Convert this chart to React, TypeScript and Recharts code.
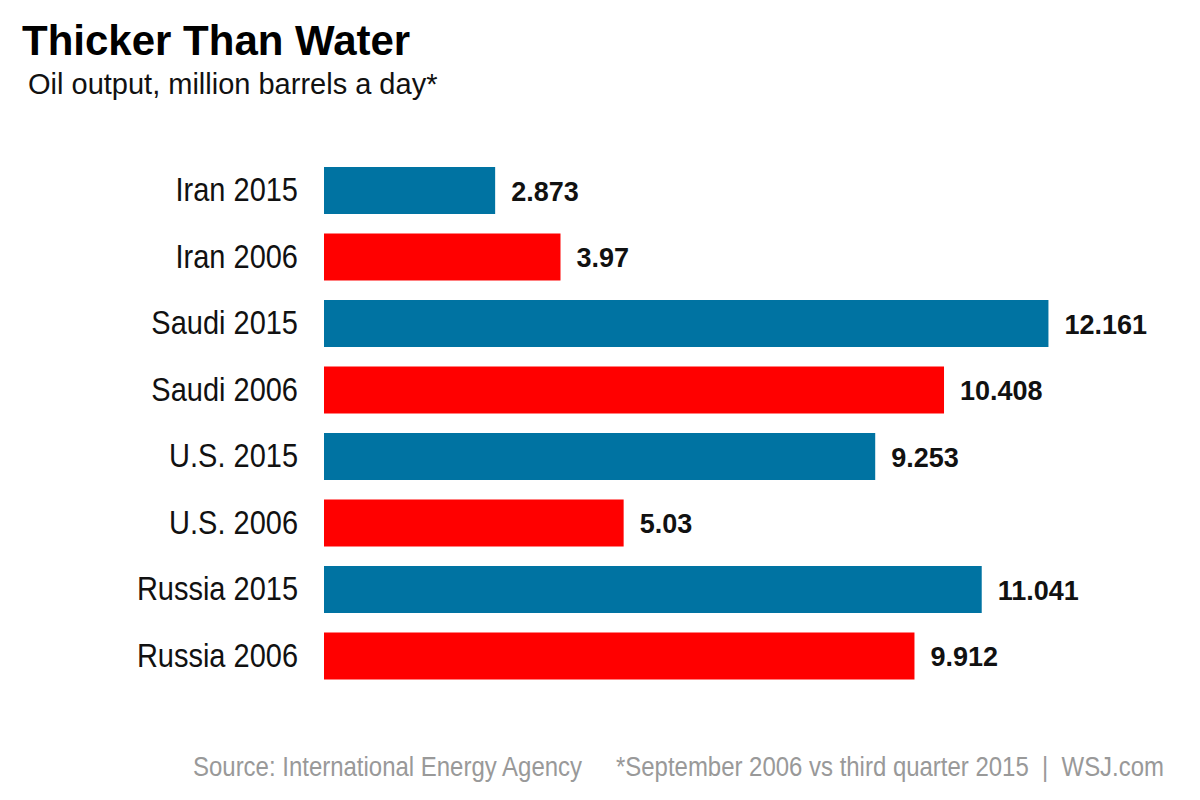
import React from 'react';
import { BarChart, Bar, XAxis, YAxis, Cell, LabelList } from 'recharts';

const categories = ['Iran 2015', 'Iran 2006', 'Saudi 2015', 'Saudi 2006', 'U.S. 2015', 'U.S. 2006', 'Russia 2015', 'Russia 2006'];
const values = [2.873, 3.97, 12.161, 10.408, 9.253, 5.03, 11.041, 9.912];
const valueLabels = ['2.873', '3.97', '12.161', '10.408', '9.253', '5.03', '11.041', '9.912'];

const BLUE = '#0073A2';
const RED = '#FF0000';
const FONT = '"Liberation Sans", Arial, Helvetica, sans-serif';

const data = categories.map((c, i) => ({ name: c, value: values[i], label: valueLabels[i] }));

const Tick = (props: any) => {
  const { x, y, payload } = props;
  return (
    <g transform={`translate(${x},${y}) scale(1,1.12)`}>
      <text x={0} y={0} textAnchor="end" dominantBaseline="central" fill="#111" fontSize={29} fontFamily={FONT}>
        {payload.value}
      </text>
    </g>
  );
};

const ValueLabel = (props: any) => {
  const { x, y, width, height, index } = props;
  const tx = Number(x) + Number(width) + 16;
  const ty = Number(y) + Number(height) / 2 + 1;
  return (
    <text x={tx} y={ty} dominantBaseline="central" fill="#111" fontSize={27} fontWeight="bold" fontFamily={FONT}>
      {valueLabels[index]}
    </text>
  );
};

export default function App() {
  return (
    <div style={{ position: 'absolute', left: 0, top: 0, width: 1200, height: 800, background: '#fff', fontFamily: FONT }}>
      <BarChart
        width={1200}
        height={800}
        data={data}
        layout="vertical"
        margin={{ top: 157, right: 42, bottom: 111, left: 0 }}
        barCategoryGap={0}
      >
        <XAxis type="number" domain={[0, 14]} hide />
        <YAxis
          type="category"
          dataKey="name"
          width={324}
          axisLine={false}
          tickLine={false}
          tickMargin={20}
          tick={<Tick />}
          interval={0}
        />
        <Bar dataKey="value" barSize={47} isAnimationActive={false}>
          {data.map((d, i) => (
            <Cell key={i} fill={d.name.endsWith('2015') ? BLUE : RED} />
          ))}
          <LabelList dataKey="label" content={<ValueLabel />} />
        </Bar>
      </BarChart>
      <svg width={1200} height={800} style={{ position: 'absolute', left: 0, top: 0, pointerEvents: 'none' }}>
        <text x={22} y={55} fontSize={42} fontWeight="bold" fill="#000" fontFamily={FONT}>Thicker Than Water</text>
        <text x={28} y={94} fontSize={29} fill="#111" fontFamily={FONT}>Oil output, million barrels a day*</text>
        <g transform="translate(0,776) scale(1,1.12)">
          <text x={193} y={0} fontSize={24} fill="#999" fontFamily={FONT} textLength={389} lengthAdjust="spacingAndGlyphs">Source: International Energy Agency</text>
          <text x={616} y={0} fontSize={24} fill="#999" fontFamily={FONT} textLength={548} lengthAdjust="spacingAndGlyphs">{'*September 2006 vs third quarter 2015\u00A0\u00A0|\u00A0\u00A0WSJ.com'}</text>
        </g>
      </svg>
    </div>
  );
}
